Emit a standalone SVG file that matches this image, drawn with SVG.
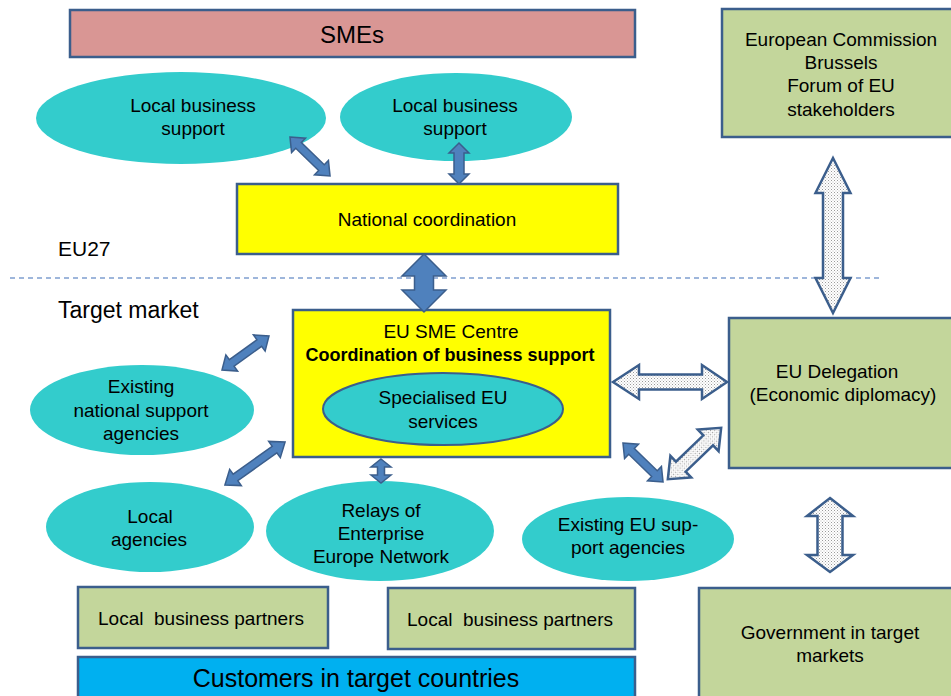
<svg xmlns="http://www.w3.org/2000/svg" width="951" height="696" viewBox="0 0 951 696">
<defs>
<pattern id="dots" width="3" height="3" patternUnits="userSpaceOnUse">
<rect width="3" height="3" fill="#ffffff"/>
<rect x="0" y="0" width="1" height="1" fill="#9a9a9a"/>
<rect x="1.5" y="1.5" width="1" height="1" fill="#b8b8b8"/>
</pattern>
</defs>
<style>
text{font-family:"Liberation Sans",Arial,sans-serif;fill:#000;text-anchor:middle}
.t{font-size:19px}
.box{stroke:#3b5e8c;stroke-width:2.5}
.green{fill:#c3d69b}
.yellow{fill:#ffff00}
.teal{fill:#33cccc}
.blue{fill:#4f81bd;stroke:#3b5e8c;stroke-width:1.5;stroke-linejoin:miter}
.dot{fill:url(#dots);stroke:#3b5e8c;stroke-width:2.5;stroke-linejoin:miter}
.lbl{text-anchor:start}
.pre{white-space:pre}
</style>

<line x1="10" y1="278" x2="880" y2="278" stroke="#7f9fd0" stroke-width="1.5" stroke-dasharray="5,4"/>
<text class="lbl" x="58" y="256" style="font-size:21px">EU27</text>
<text class="lbl" x="58" y="318" style="font-size:23px">Target market</text>

<g id="smes">
<rect class="box" x="70" y="10" width="565" height="47" fill="#d99694"/>
<text x="352" y="43" style="font-size:24px">SMEs</text>
</g>

<g id="ec">
<rect class="box green" x="722" y="9" width="235" height="128"/>
<text class="t" x="841" y="46">European Commission</text>
<text class="t" x="841" y="69">Brussels</text>
<text class="t" x="841" y="92">Forum of EU</text>
<text class="t" x="841" y="116">stakeholders</text>
</g>

<g id="lbs1">
<ellipse class="teal" cx="181" cy="118" rx="145" ry="46"/>
<text class="t" x="193" y="112">Local business</text>
<text class="t" x="193" y="135">support</text>
</g>

<g id="lbs2">
<ellipse class="teal" cx="456" cy="117" rx="116" ry="44"/>
<text class="t" x="455" y="112">Local business</text>
<text class="t" x="455" y="135">support</text>
</g>

<g id="national">
<rect class="box yellow" x="237" y="184" width="381" height="70"/>
<text class="t" x="427" y="226">National coordination</text>
</g>

<g id="centre">
<rect class="box yellow" x="293" y="310" width="317" height="147"/>
<text class="t" x="451" y="338">EU SME Centre</text>
<text x="450" y="361" style="font-size:18px;font-weight:bold">Coordination of business support</text>
<ellipse cx="443" cy="409" rx="120" ry="36" fill="#33cccc" stroke="#3b5e8c" stroke-width="2"/>
<text class="t" x="443" y="404">Specialised EU</text>
<text class="t" x="443" y="428">services</text>
</g>

<g id="delegation">
<rect class="box green" x="729" y="318" width="228" height="150"/>
<text class="t" x="837" y="378">EU Delegation</text>
<text class="t" x="843" y="401">(Economic diplomacy)</text>
</g>

<g id="national-agencies">
<ellipse class="teal" cx="142" cy="410" rx="112" ry="45"/>
<text class="t" x="141" y="393">Existing</text>
<text class="t" x="141" y="417">national support</text>
<text class="t" x="141" y="440">agencies</text>
</g>

<g id="local-agencies">
<ellipse class="teal" cx="150" cy="527" rx="104" ry="45"/>
<text class="t" x="150" y="523">Local</text>
<text class="t" x="149" y="546">agencies</text>
</g>

<g id="relays">
<ellipse class="teal" cx="380" cy="531" rx="114" ry="50"/>
<text class="t" x="381" y="517">Relays of</text>
<text class="t" x="381" y="540">Enterprise</text>
<text class="t" x="381" y="563">Europe Network</text>
</g>

<g id="eu-agencies">
<ellipse class="teal" cx="628" cy="539" rx="106" ry="42"/>
<text class="t" x="628" y="531">Existing EU sup-</text>
<text class="t" x="628" y="554">port agencies</text>
</g>

<g id="lbp1">
<rect class="box green" x="78" y="587" width="250" height="61"/>
<text class="t pre" x="201" y="625" xml:space="preserve">Local  business partners</text>
</g>

<g id="lbp2">
<rect class="box green" x="388" y="588" width="247" height="61"/>
<text class="t pre" x="510" y="626" xml:space="preserve">Local  business partners</text>
</g>

<g id="government">
<rect class="box green" x="699" y="588" width="258" height="112"/>
<text class="t" x="830" y="639">Government in target</text>
<text class="t" x="830" y="662">markets</text>
</g>

<g id="customers">
<rect class="box" x="78" y="657" width="557" height="45" fill="#00b0f0"/>
<text x="356" y="687" style="font-size:25px">Customers in target countries</text>
</g>

<g id="connectors">
<polygon class="blue" transform="translate(310,156.5) rotate(44.3)" points="-28,0 -16,-10 -16,-4 16,-4 16,-10 28,0 16,10 16,4 -16,4 -16,10"/>
<polygon class="blue" points="459,143 469,153 464,153 464,174 469,174 459,184 449,174 454,174 454,153 449,153"/>
<polygon class="blue" points="424,254 446,276 433.5,276 433.5,290 446,290 424,312 402,290 414.5,290 414.5,276 402,276"/>
<polygon class="blue" transform="translate(245.5,353) rotate(-35.9)" points="-29,0 -17,-10 -17,-4 17,-4 17,-10 29,0 17,10 17,4 -17,4 -17,10"/>
<polygon class="blue" transform="translate(255,463.5) rotate(-35.6)" points="-37,0 -24,-10 -24,-4 24,-4 24,-10 37,0 24,10 24,4 -24,4 -24,10"/>
<polygon class="blue" points="381,459 391,467 384.5,467 384.5,475 391,475 381,483 371,475 377.5,475 377.5,467 371,467"/>
<polygon class="blue" transform="translate(643,462.5) rotate(44.3)" points="-28,0 -16,-10 -16,-4 16,-4 16,-10 28,0 16,10 16,4 -16,4 -16,10"/>
<polygon class="dot" points="613,382 639,365 639,374.5 702,374.5 702,365 727,382 702,399 702,389.5 639,389.5 639,399"/>
<polygon class="dot" transform="translate(694.5,453.5) rotate(-43.9)" points="-37,0 -19,-15 -19,-7 19,-7 19,-15 37,0 19,15 19,7 -19,7 -19,15"/>
<polygon class="dot" points="833,158 850.5,193 843,193 843,278 850.5,278 833,313 815.5,278 823,278 823,193 815.5,193"/>
<polygon class="dot" points="830,498 853,516 842.5,516 842.5,555 853,555 830,572 807,555 817.5,555 817.5,516 807,516"/>
</g>
</svg>
